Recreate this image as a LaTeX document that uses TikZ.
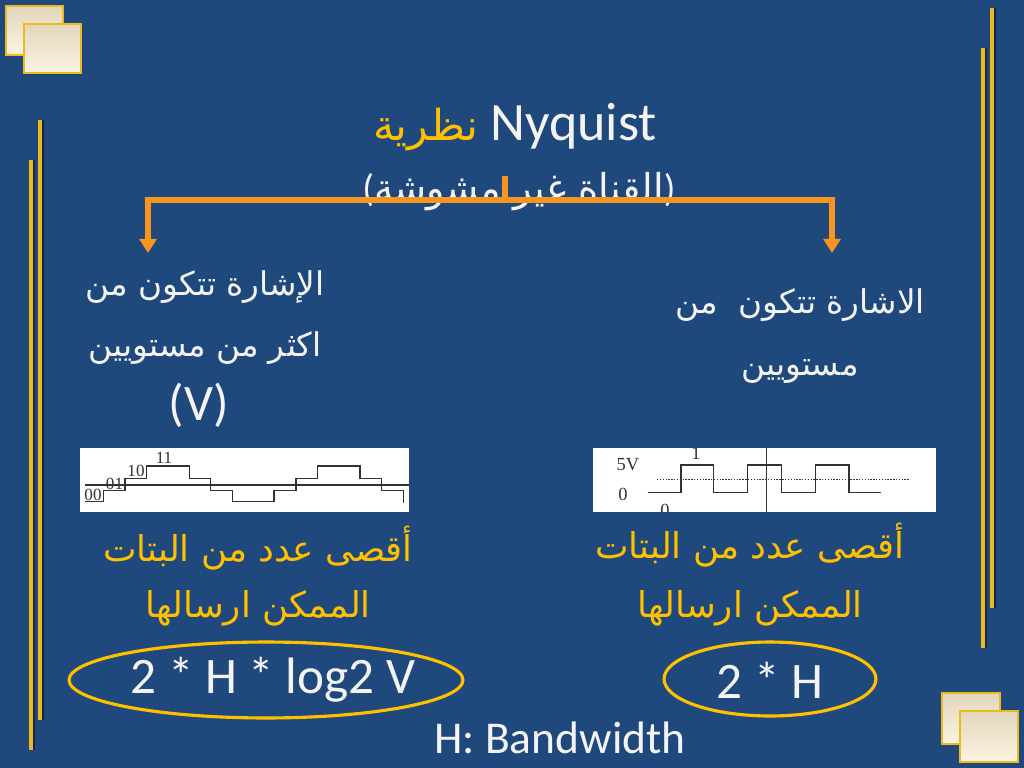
\documentclass[tikz,border=0pt]{standalone}
\usepackage{fontspec}
\setmainfont{Carlito}
\newfontfamily\arabicfont[Script=Arabic]{DejaVu Sans}
\newfontfamily\wavefont{Liberation Serif}
\TeXXeTstate=1
\usetikzlibrary{arrows.meta}
\definecolor{bg}{RGB}{31,73,125}
\definecolor{gold}{RGB}{255,192,0}
\definecolor{orangeline}{RGB}{247,150,30}
\definecolor{deco}{RGB}{236,186,30}
\definecolor{decoshade}{RGB}{20,40,70}
\definecolor{cream1}{RGB}{226,214,188}
\definecolor{cream2}{RGB}{252,244,226}
\definecolor{txt}{RGB}{244,244,244}
\definecolor{wave}{RGB}{50,50,50}
\tikzset{
  sq/.style={draw=deco, line width=2pt, top color=cream1, bottom color=cream2},
  vline/.style={deco, line width=2.6pt},
  vshade/.style={decoshade, line width=2.6pt},
  orangeln/.style={orangeline, line width=3.6pt},
  orangearrow/.style={orangeline, line width=3.6pt, -{Triangle[length=10pt,width=12pt]}},
  artxt/.style={text=txt, font=\arabicfont\fontsize{23}{26}\selectfont, inner sep=0pt},
  yeltxt/.style={text=gold, font=\arabicfont\fontsize{25}{28}\selectfont, inner sep=0pt},
  latin/.style={text=txt, inner sep=0pt},
  formula/.style={text=txt, inner sep=0pt, font=\fontsize{36}{40}\selectfont},
  ring/.style={draw=gold, line width=2.2pt},
  imgbox/.style={fill=white, draw=none},
  wavepath/.style={wave, line width=1pt},
  wavelbl/.style={text=wave, font=\wavefont\fontsize{12}{13}\selectfont, inner sep=0pt},
  wavelblb/.style={text=wave, font=\wavefont\fontsize{13}{14}\selectfont, inner sep=0pt}
}
\begin{document}
\begin{tikzpicture}[x=0.703125pt, y=-0.703125pt]
\fill[bg] (0,0) rectangle (1024,768);
\useasboundingbox (0,0) rectangle (1024,768);

% corner squares
\draw[sq] (6,6) rectangle (63,55);
\draw[sq] (24,24) rectangle (81,73);
\draw[sq] (942,693) rectangle (1000,744);
\draw[sq] (960,711) rectangle (1018,762);

% decorative vertical lines
\draw[vshade] (42,120) -- (42,720);
\draw[vline] (40,120) -- (40,720);
\draw[vshade] (33,160) -- (33,750);
\draw[vline] (31,160) -- (31,750);
\draw[vshade] (994,8) -- (994,608);
\draw[vline] (992,8) -- (992,608);
\draw[vshade] (985,48) -- (985,648);
\draw[vline] (983,48) -- (983,648);

% title
\node[latin, font=\fontsize{38}{44}\selectfont, anchor=base] (title) at (515,141)
  {{\color{gold}\arabicfont\fontsize{30}{34}\selectfont\beginR نظرية\endR}~Nyquist};
\node[latin, font=\fontsize{27}{30}\selectfont] (sub) at (519,192)
  {{(}{\arabicfont\beginR القناة غير مشوشة\endR}{)}};

% orange connectors
\coordinate (hl) at (148,200);
\coordinate (hr) at (832,200);
\coordinate (tick) at (505,176);
\coordinate (tickb) at (505,200);
\coordinate (al) at (148,253);
\coordinate (ar) at (832,253);
\draw[orangeln] ([xshift=-1.8pt]hl) -- ([xshift=1.8pt]hr);
\draw[orangeln] (tick) -- (tickb);
\draw[orangearrow] (hl) -- (al);
\draw[orangearrow] (hr) -- (ar);

% left text
\node[artxt] (l1) at (205,287) {\beginR الإشارة تتكون من\endR};
\node[artxt] (l2) at (205,348) {\beginR اكثر من مستويين\endR};
\node[latin, font=\fontsize{36}{40}\selectfont] (lv) at (199,405) {(V)};

% right text
\node[artxt] (r1) at (800,305) {\beginR الاشارة تتكون ~من\endR};
\node[artxt] (r2) at (800,372) {\beginR مستويين\endR};

% left waveform
\fill[imgbox] (80,448) rectangle (409,512);
\draw[wavepath] (85,485) -- (409,485);
\draw[wavepath] (85,501.7) -- (103.3,501.7) -- (103.3,490.7) -- (125,490.7) -- (125,478.3)
  -- (146.7,478.3) -- (146.7,466) -- (189.3,466) -- (189.3,478.3) -- (210.7,478.3)
  -- (210.7,490.7) -- (232.7,490.7) -- (232.7,501.7) -- (274,501.7) -- (274,490.7)
  -- (296,490.7) -- (296,478.3) -- (317.3,478.3) -- (317.3,466) -- (360,466)
  -- (360,478.3) -- (381.7,478.3) -- (381.7,490.7) -- (403.3,490.7) -- (403.3,503);
\node[wavelbl, anchor=base] (w00) at (93,500.5) {00};
\node[wavelbl, anchor=base] (w01) at (114.5,489) {01};
\node[wavelbl, anchor=base] (w10) at (136,476.8) {10};
\node[wavelbl, anchor=base] (w11) at (164,463.5) {11};

% right waveform
\fill[imgbox] (593,448) rectangle (936,512);
\begin{scope}
\clip (593,448) rectangle (936,512);
\draw[wavepath, densely dotted] (657,479.3) -- (910,479.3);
\draw[wavepath] (766.7,448) -- (766.7,512);
\draw[wavepath] (647.7,492.3) -- (681,492.3) -- (681,465) -- (713.3,465) -- (713.3,492.3)
  -- (747.7,492.3) -- (747.7,465) -- (781.7,465) -- (781.7,492.3) -- (815.7,492.3)
  -- (815.7,465) -- (849,465) -- (849,492.3) -- (881,492.3);
\node[wavelblb] (w5v) at (628,465) {5V};
\node[wavelblb] (wz) at (623,494) {0};
\node[wavelblb] (wone) at (696,453) {1};
\node[wavelblb] (wzb) at (665,510) {0};
\end{scope}

% yellow text
\node[yeltxt] (ly1) at (258,548) {\beginR أقصى عدد من البتات\endR};
\node[yeltxt] (ly2) at (258,608) {\beginR الممكن ارسالها\endR};
\node[yeltxt] (ry1) at (750,545) {\beginR أقصى عدد من البتات\endR};
\node[yeltxt] (ry2) at (750,608) {\beginR الممكن ارسالها\endR};

% formulas
\node[formula] (fl) at (273,680) {2 * H * log2 V};
\draw[ring] (266,680) ellipse [x radius=138.5pt, y radius=26.7pt];
\node[formula] (fr) at (770,680) {2 * H};
\draw[ring] (770,679) ellipse [x radius=74.5pt, y radius=26pt];

\node[latin, font=\fontsize{32}{36}\selectfont] (bw) at (560,738) {H: Bandwidth};
\end{tikzpicture}
\end{document}
